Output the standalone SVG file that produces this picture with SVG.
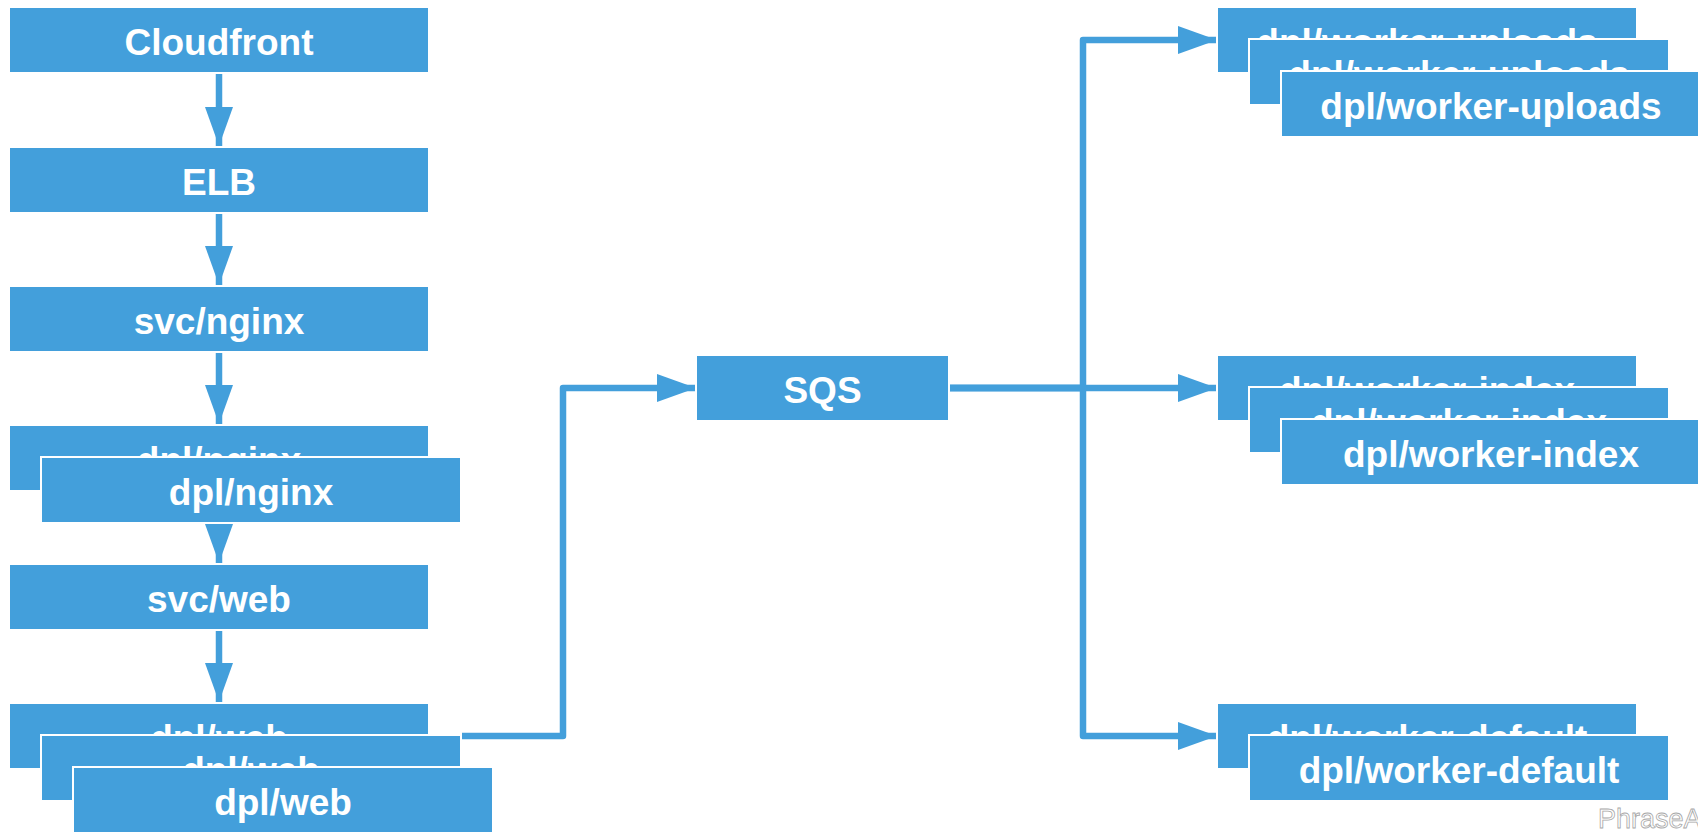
<svg xmlns="http://www.w3.org/2000/svg" width="1698" height="832" viewBox="0 0 1698 832">
  <style>
    .box { fill: #439fdb; stroke: #ffffff; stroke-width: 2; }
    .lbl { fill: #ffffff; font-family: "Liberation Sans", Arial, Helvetica, sans-serif; font-weight: bold; font-size: 37px; text-anchor: middle; }
    .conn { fill: none; stroke: #439fdb; stroke-width: 6.5; stroke-linejoin: round; }
    .wm { fill: #ffffff; stroke: #a8a8a8; stroke-width: 0.8; font-family: "Liberation Sans", Arial, sans-serif; font-size: 27px; }
  </style>
  <defs>
    <marker id="ah" markerUnits="userSpaceOnUse" markerWidth="40" markerHeight="30" refX="39" refY="14" orient="auto">
      <path d="M0,0 L39,14 L0,28 Z" fill="#439fdb"/>
    </marker>
  </defs>
  <rect width="1698" height="832" fill="#ffffff"/>

  <g id="connectors">
    <path class="conn" d="M219,74 V146" marker-end="url(#ah)"/>
    <path class="conn" d="M219,213 V285" marker-end="url(#ah)"/>
    <path class="conn" d="M219,352 V424" marker-end="url(#ah)"/>
    <path class="conn" d="M219,491 V563" marker-end="url(#ah)"/>
    <path class="conn" d="M219,630 V702" marker-end="url(#ah)"/>
    <path class="conn" d="M462,736 H563 V388 H696" marker-end="url(#ah)"/>
    <path class="conn" d="M949,388 H1083 V40 H1217" marker-end="url(#ah)"/>
    <path class="conn" d="M949,388 H1217" marker-end="url(#ah)"/>
    <path class="conn" d="M949,388 H1083 V736 H1217" marker-end="url(#ah)"/>
  </g>

  <g id="cloudfront">
    <rect class="box" x="9" y="7" width="420" height="66"/>
    <text class="lbl" x="219" y="55">Cloudfront</text>
  </g>
  <g id="elb">
    <rect class="box" x="9" y="147" width="420" height="66"/>
    <text class="lbl" x="219" y="195">ELB</text>
  </g>
  <g id="svc-nginx">
    <rect class="box" x="9" y="286" width="420" height="66"/>
    <text class="lbl" x="219" y="334">svc/nginx</text>
  </g>
  <g id="dpl-nginx">
    <rect class="box" x="9" y="425" width="420" height="66"/>
    <text class="lbl" x="219" y="473">dpl/nginx</text>
    <rect class="box" x="41" y="457" width="420" height="66"/>
    <text class="lbl" x="251" y="505">dpl/nginx</text>
  </g>
  <g id="svc-web">
    <rect class="box" x="9" y="564" width="420" height="66"/>
    <text class="lbl" x="219" y="612">svc/web</text>
  </g>
  <g id="dpl-web">
    <rect class="box" x="9" y="703" width="420" height="66"/>
    <text class="lbl" x="219" y="751">dpl/web</text>
    <rect class="box" x="41" y="735" width="420" height="66"/>
    <text class="lbl" x="251" y="783">dpl/web</text>
    <rect class="box" x="73" y="767" width="420" height="66"/>
    <text class="lbl" x="283" y="815">dpl/web</text>
  </g>
  <g id="sqs">
    <rect class="box" x="696" y="355" width="253" height="66"/>
    <text class="lbl" x="822.5" y="403">SQS</text>
  </g>
  <g id="dpl-worker-uploads">
    <rect class="box" x="1217" y="7" width="420" height="66"/>
    <text class="lbl" x="1427" y="55">dpl/worker-uploads</text>
    <rect class="box" x="1249" y="39" width="420" height="66"/>
    <text class="lbl" x="1459" y="87">dpl/worker-uploads</text>
    <rect class="box" x="1281" y="71" width="420" height="66"/>
    <text class="lbl" x="1491" y="119">dpl/worker-uploads</text>
  </g>
  <g id="dpl-worker-index">
    <rect class="box" x="1217" y="355" width="420" height="66"/>
    <text class="lbl" x="1427" y="403">dpl/worker-index</text>
    <rect class="box" x="1249" y="387" width="420" height="66"/>
    <text class="lbl" x="1459" y="435">dpl/worker-index</text>
    <rect class="box" x="1281" y="419" width="420" height="66"/>
    <text class="lbl" x="1491" y="467">dpl/worker-index</text>
  </g>
  <g id="dpl-worker-default">
    <rect class="box" x="1217" y="703" width="420" height="66"/>
    <text class="lbl" x="1427" y="751">dpl/worker-default</text>
    <rect class="box" x="1249" y="735" width="420" height="66"/>
    <text class="lbl" x="1459" y="783">dpl/worker-default</text>
  </g>

  <text class="wm" x="1598" y="828">PhraseA</text>
</svg>
